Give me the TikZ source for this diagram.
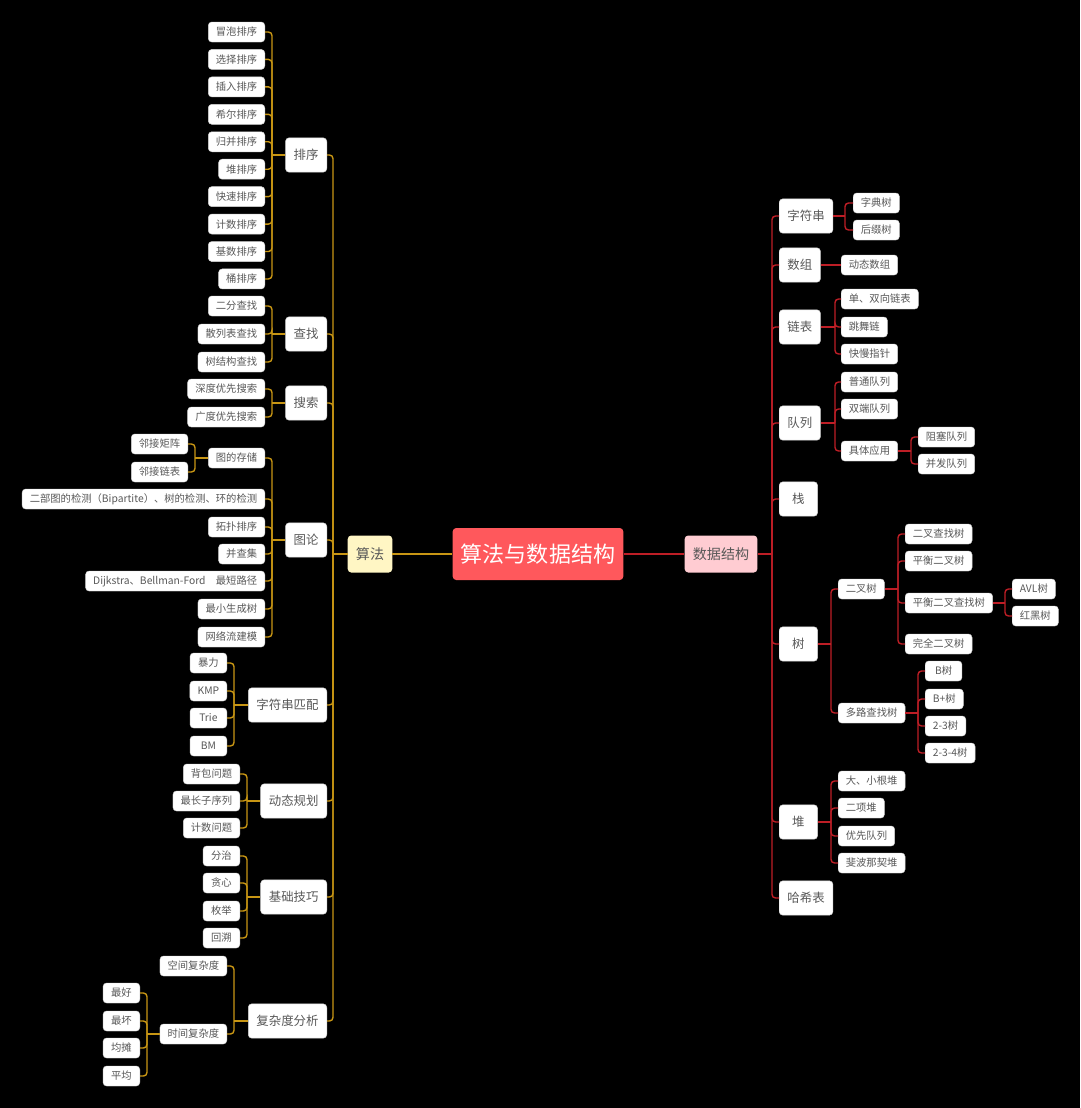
\documentclass[tikz,border=0pt]{standalone}
\usepackage{fontspec}
\setmainfont{Noto Sans CJK SC}
\definecolor{goldline}{RGB}{200,150,20}
\definecolor{redline}{RGB}{190,30,38}
\definecolor{rootfill}{RGB}{255,88,92}
\definecolor{algofill}{RGB}{255,246,196}
\definecolor{dsfill}{RGB}{255,204,210}
\definecolor{cardtext}{RGB}{88,88,88}

\begin{document}
\begin{tikzpicture}[
  x=0.03cm, y=-0.03cm,
  every node/.style={font=\fontsize{8.8}{10}\selectfont, text=cardtext},
  card/.style  = {rounded corners=3pt, fill=white, draw=gray!35, line width=0.4pt, inner xsep=6.5pt, inner ysep=0pt},
  leaf/.style  = {card, minimum height=0.6cm, minimum width=1.1cm},
  topic/.style = {card, font=\fontsize{10.6}{12}\selectfont, minimum height=1.03cm, minimum width=1.15cm, inner xsep=7pt},
  main/.style  = {card, draw=none, font=\fontsize{12}{14}\selectfont, minimum height=1.11cm, inner xsep=7pt},
  root/.style  = {main, fill=rootfill, text=white, font=\fontsize{18.8}{20}\selectfont, minimum height=1.56cm},
  gl/.style    = {draw=goldline, line width=1.2pt, rounded corners=3pt},
  rl/.style    = {draw=redline, line width=1.2pt, rounded corners=3pt},
]
  \useasboundingbox (0,0) rectangle (1080,1108);
  \fill[black] (0,0) rectangle (1080,1108);

  % centre
  \node[root] (core) at (538,554) {算法与数据结构};
  \node[main, fill=algofill] (algo) at (370,554) {算法};
  \node[main, fill=dsfill] (ds) at (721,554) {数据结构};
  \draw[gl] (algo.east) -- (core.west);
  \draw[rl] (core.east) -- (ds.west);

  % algorithms
  \coordinate (algobus) at (333,554);
  \draw[gl] (algo.west) -- (algobus);
  \foreach \n/\lbl/\y in {sort/排序/155, find/查找/334, search/搜索/403, graph/图论/540,
      match/字符串匹配/705, dp/动态规划/801, skill/基础技巧/897, cplx/复杂度分析/1021}{
    \node[topic, anchor=east] (\n) at (327,\y) {\lbl};
    \draw[gl] (algobus) |- (\n.east);
  }

  \coordinate (sortbus) at (272,155);
  \draw[gl] (sort.west) -- (sortbus);
  \foreach \lbl [count=\i] in {冒泡排序,选择排序,插入排序,希尔排序,归并排序,堆排序,快速排序,计数排序,基数排序,桶排序}{
    \node[leaf, anchor=east] (sort\i) at (265,{32+27.44*(\i-1)}) {\lbl};
    \draw[gl] (sortbus) |- (sort\i.east);
  }

  \coordinate (findbus) at (272,334);
  \draw[gl] (find.west) -- (findbus);
  \foreach \n/\lbl/\y in {find1/二分查找/306, find2/散列表查找/334, find3/树结构查找/362}{
    \node[leaf, anchor=east] (\n) at (265,\y) {\lbl};
    \draw[gl] (findbus) |- (\n.east);
  }

  \coordinate (searchbus) at (272,403);
  \draw[gl] (search.west) -- (searchbus);
  \foreach \n/\lbl/\y in {search1/深度优先搜索/389, search2/广度优先搜索/417}{
    \node[leaf, anchor=east] (\n) at (265,\y) {\lbl};
    \draw[gl] (searchbus) |- (\n.east);
  }

  \coordinate (graphbus) at (272,540);
  \draw[gl] (graph.west) -- (graphbus);
  \foreach \n/\lbl/\y in {store/图的存储/458, graph1/二部图的检测（Bipartite）、树的检测、环的检测/499,
      graph2/拓扑排序/527, graph3/并查集/554, graph4/Dijkstra、Bellman-Ford　最短路径/581,
      graph5/最小生成树/609, graph6/网络流建模/637}{
    \node[leaf, anchor=east] (\n) at (265,\y) {\lbl};
    \draw[gl] (graphbus) |- (\n.east);
  }

  \coordinate (storebus) at (195,458);
  \draw[gl] (store.west) -- (storebus);
  \foreach \n/\lbl/\y in {store1/邻接矩阵/444, store2/邻接链表/472}{
    \node[leaf, anchor=east] (\n) at (188,\y) {\lbl};
    \draw[gl] (storebus) |- (\n.east);
  }

  \coordinate (matchbus) at (234,705);
  \draw[gl] (match.west) -- (matchbus);
  \foreach \n/\lbl/\y in {match1/暴力/663, match2/KMP/691, match3/Trie/718, match4/BM/746}{
    \node[leaf, anchor=east] (\n) at (227,\y) {\lbl};
    \draw[gl] (matchbus) |- (\n.east);
  }

  \coordinate (dpbus) at (247,801);
  \draw[gl] (dp.west) -- (dpbus);
  \foreach \n/\lbl/\y in {dp1/背包问题/774, dp2/最长子序列/801, dp3/计数问题/828}{
    \node[leaf, anchor=east] (\n) at (240,\y) {\lbl};
    \draw[gl] (dpbus) |- (\n.east);
  }

  \coordinate (skillbus) at (247,897);
  \draw[gl] (skill.west) -- (skillbus);
  \foreach \n/\lbl/\y in {skill1/分治/856, skill2/贪心/883, skill3/枚举/911, skill4/回溯/938}{
    \node[leaf, anchor=east] (\n) at (240,\y) {\lbl};
    \draw[gl] (skillbus) |- (\n.east);
  }

  \coordinate (cplxbus) at (234,1021);
  \draw[gl] (cplx.west) -- (cplxbus);
  \foreach \n/\lbl/\y in {space/空间复杂度/966, time/时间复杂度/1034}{
    \node[leaf, anchor=east] (\n) at (227,\y) {\lbl};
    \draw[gl] (cplxbus) |- (\n.east);
  }

  \coordinate (timebus) at (147,1034);
  \draw[gl] (time.west) -- (timebus);
  \foreach \n/\lbl/\y in {time1/最好/993, time2/最坏/1021, time3/均摊/1048, time4/平均/1076}{
    \node[leaf, anchor=east] (\n) at (140,\y) {\lbl};
    \draw[gl] (timebus) |- (\n.east);
  }

  % data structures
  \coordinate (dsbus) at (772,554);
  \draw[rl] (ds.east) -- (dsbus);
  \foreach \n/\lbl/\y in {str/字符串/216, arr/数组/265, list/链表/327, queue/队列/423,
      stack/栈/499, tree/树/644, heap/堆/822, hash/哈希表/898}{
    \node[topic, anchor=west] (\n) at (779,\y) {\lbl};
    \draw[rl] (dsbus) |- (\n.west);
  }

  \coordinate (strbus) at (845,216);
  \draw[rl] (str.east) -- (strbus);
  \foreach \n/\lbl/\y in {str1/字典树/203, str2/后缀树/230}{
    \node[leaf, anchor=west] (\n) at (853,\y) {\lbl};
    \draw[rl] (strbus) |- (\n.west);
  }

  \node[leaf, anchor=west] (arr1) at (841,265) {动态数组};
  \draw[rl] (arr.east) -- (arr1.west);

  \coordinate (listbus) at (835,327);
  \draw[rl] (list.east) -- (listbus);
  \foreach \n/\lbl/\y in {list1/单、双向链表/299, list2/跳舞链/327, list3/快慢指针/354}{
    \node[leaf, anchor=west] (\n) at (841,\y) {\lbl};
    \draw[rl] (listbus) |- (\n.west);
  }

  \coordinate (queuebus) at (835,423);
  \draw[rl] (queue.east) -- (queuebus);
  \foreach \n/\lbl/\y in {queue1/普通队列/382, queue2/双端队列/409, apply/具体应用/451}{
    \node[leaf, anchor=west] (\n) at (841,\y) {\lbl};
    \draw[rl] (queuebus) |- (\n.west);
  }

  \coordinate (applybus) at (911,451);
  \draw[rl] (apply.east) -- (applybus);
  \foreach \n/\lbl/\y in {apply1/阻塞队列/437, apply2/并发队列/464}{
    \node[leaf, anchor=west] (\n) at (918,\y) {\lbl};
    \draw[rl] (applybus) |- (\n.west);
  }

  \coordinate (treebus) at (831,644);
  \draw[rl] (tree.east) -- (treebus);
  \foreach \n/\lbl/\y in {bin/二叉树/589, multi/多路查找树/713}{
    \node[leaf, anchor=west] (\n) at (838,\y) {\lbl};
    \draw[rl] (treebus) |- (\n.west);
  }

  \coordinate (binbus) at (898,589);
  \draw[rl] (bin.east) -- (binbus);
  \foreach \n/\lbl/\y in {bin1/二叉查找树/534, bin2/平衡二叉树/561, bal/平衡二叉查找树/603, bin3/完全二叉树/644}{
    \node[leaf, anchor=west] (\n) at (905,\y) {\lbl};
    \draw[rl] (binbus) |- (\n.west);
  }

  \coordinate (balbus) at (1005,603);
  \draw[rl] (bal.east) -- (balbus);
  \foreach \n/\lbl/\y in {bal1/AVL树/589, bal2/红黑树/616}{
    \node[leaf, anchor=west] (\n) at (1012,\y) {\lbl};
    \draw[rl] (balbus) |- (\n.west);
  }

  \coordinate (multibus) at (918,713);
  \draw[rl] (multi.east) -- (multibus);
  \foreach \n/\lbl/\y in {multi1/B树/671, multi2/B+树/699, multi3/2-3树/726, multi4/2-3-4树/753}{
    \node[leaf, anchor=west] (\n) at (925,\y) {\lbl};
    \draw[rl] (multibus) |- (\n.west);
  }

  \coordinate (heapbus) at (831,822);
  \draw[rl] (heap.east) -- (heapbus);
  \foreach \n/\lbl/\y in {heap1/大、小根堆/781, heap2/二项堆/808, heap3/优先队列/836, heap4/斐波那契堆/863}{
    \node[leaf, anchor=west] (\n) at (838,\y) {\lbl};
    \draw[rl] (heapbus) |- (\n.west);
  }
\end{tikzpicture}
\end{document}
